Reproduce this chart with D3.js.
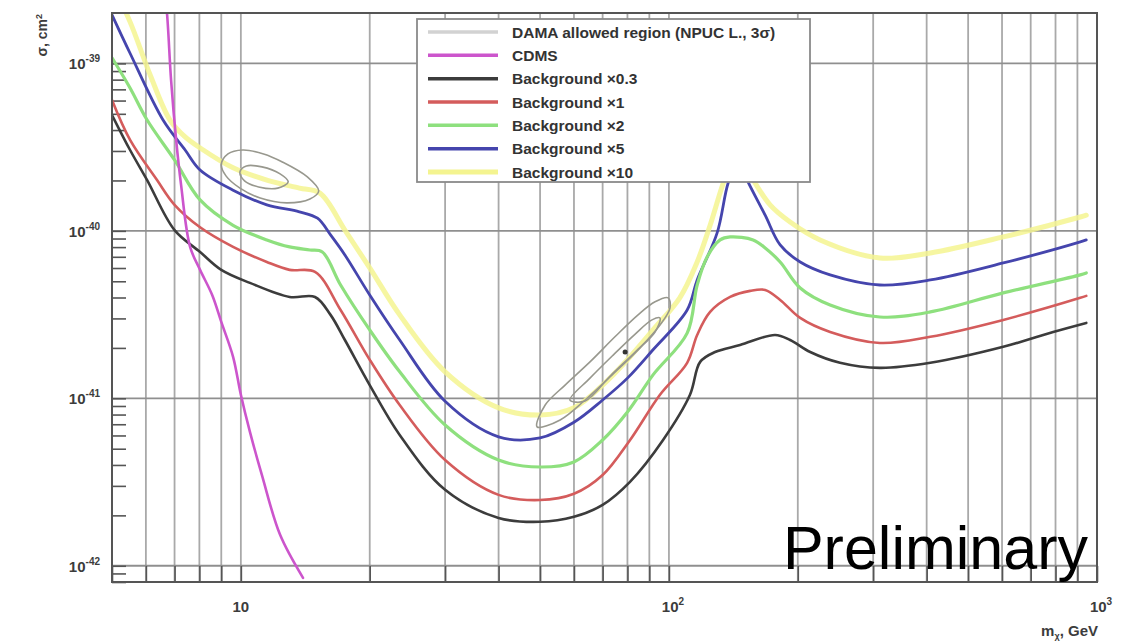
<!DOCTYPE html>
<html>
<head>
<meta charset="utf-8">
<script src="https://cdn.jsdelivr.net/npm/d3@7"></script>
<style>
  body { margin: 0; background: #fff; }
  svg { display: block; }
  text { font-family: "Liberation Sans", Arial, sans-serif; }
</style>
</head>
<body>
<svg id="chart" width="1126" height="641"></svg>
<script>
// Axis ranges: WIMP mass (GeV) and spin-independent cross-section (cm^2)
const xDomain = [5, 1000];
const yDomain = [8e-43, 2e-39];

const xTickValues = [10, 100, 1000];
const xTickExponents = ["", "2", "3"];
const yTickValues = [1e-39, 1e-40, 1e-41, 1e-42];
const yTickExponents = ["-39", "-40", "-41", "-42"];

// Sensitivity curves, [mass GeV, sigma cm^2]
const bgX03 = [[5.0,4.92e-40],[5.51,3.04e-40],[6.04,2.01e-40],[7.0,1.01e-40],[8.03,7.48e-41],[9.0,5.85e-41],[10.5,4.89e-41],[13.0,4.03e-41],[14.9,4.03e-41],[16.2,3.15e-41],[17.5,2.23e-41],[20,1.20e-41],[23.5,6.04e-42],[30,2.84e-42],[40,1.93e-42],[50,1.83e-42],[60,1.96e-42],[70,2.31e-42],[81.1,3.17e-42],[96.9,5.64e-42],[112,1.05e-41],[118.3,1.65e-41],[128.2,1.89e-41],[146.6,2.08e-41],[177,2.39e-41],[191.9,2.23e-41],[213.8,1.89e-41],[251,1.63e-41],[311,1.52e-41],[408,1.63e-41],[604,2.03e-41],[790,2.49e-41],[944,2.82e-41]];

const bgX1 = [[5.0,6.04e-40],[5.51,3.49e-40],[6.37,2.01e-40],[7.0,1.43e-40],[8.03,1.05e-40],[9.59,8.02e-41],[11.5,6.52e-41],[13.0,5.85e-41],[14.9,5.69e-41],[17.1,3.37e-41],[20,1.70e-41],[23.5,9.12e-42],[30,4.28e-42],[40,2.65e-42],[50,2.47e-42],[60,2.69e-42],[70,3.48e-42],[81,5.6e-42],[95.3,1.05e-41],[110.3,1.63e-41],[116.4,2.39e-41],[124.8,3.28e-41],[139,4.03e-41],[154.8,4.38e-41],[167.8,4.44e-41],[181.9,3.87e-41],[202.6,3.02e-41],[238,2.49e-41],[311,2.14e-41],[408,2.33e-41],[604,2.94e-41],[914,3.98e-41],[944,4.09e-41]];

const bgX2 = [[5.0,1.08e-39],[5.51,7.13e-40],[6.04,4.59e-40],[7.0,2.65e-40],[8.03,1.53e-40],[9.59,1.08e-40],[11.5,8.83e-41],[13.0,8.02e-41],[14.5,7.69e-41],[15.5,7.48e-41],[17.1,4.75e-41],[20,2.56e-41],[23.5,1.44e-41],[30,6.93e-42],[40,4.28e-42],[50,3.89e-42],[60,4.17e-42],[70,5.64e-42],[80,8.28e-42],[91.8,1.38e-41],[110.3,2.45e-41],[116.4,4.75e-41],[122.8,6.98e-41],[131.7,8.83e-41],[139,9.2e-41],[157.3,8.83e-41],[167.8,7.91e-41],[181.9,6.52e-41],[202.6,4.56e-41],[238,3.61e-41],[311,3.06e-41],[408,3.28e-41],[604,4.26e-41],[914,5.46e-41],[944,5.61e-41]];

const bgX5 = [[5.0,1.95e-39],[5.51,1.15e-39],[6.58,4.59e-40],[7.41,3.04e-40],[8.03,2.31e-40],[9.59,1.75e-40],[11.5,1.43e-40],[13.7,1.30e-40],[15.1,1.19e-40],[16.2,9.46e-41],[17.5,7.18e-41],[20,4.14e-41],[23.5,2.23e-41],[30,9.6e-42],[40,5.89e-42],[50,5.8e-42],[60,7.2e-42],[70,9.77e-42],[80,1.32e-41],[91.8,1.95e-41],[110.3,3.37e-41],[116.4,5.09e-41],[129.6,9.72e-41],[137.5,1.93e-40],[145,2.65e-40],[153,1.96e-40],[167.8,1.24e-40],[181.9,8.24e-41],[202.6,6.52e-41],[238,5.46e-41],[311,4.75e-41],[408,5.09e-41],[604,6.43e-41],[914,8.59e-41],[944,8.83e-41]];

const bgX10 = [[5.0,3.0e-39],[5.51,1.77e-39],[6.14,8.53e-40],[6.83,4.59e-40],[7.41,3.64e-40],[8.03,3.13e-40],[9.59,2.38e-40],[11.5,2.01e-40],[13.7,1.80e-40],[15.3,1.68e-40],[17.5,1.01e-40],[20,6.01e-41],[23.5,3.15e-41],[30,1.44e-41],[40,8.77e-42],[50,7.94e-42],[60,8.77e-42],[70,1.20e-41],[80,1.70e-41],[91.8,2.56e-41],[106,3.98e-41],[116.4,6.52e-41],[124.8,1.08e-40],[135.3,2.07e-40],[145,3.04e-40],[156.5,2.07e-40],[172.3,1.43e-40],[191.9,1.13e-40],[225.5,8.83e-41],[311,6.89e-41],[408,7.38e-41],[604,9.2e-41],[914,1.21e-40],[944,1.24e-40]];

const cdms = [[6.6,3.0e-39],[6.72,2.0e-39],[6.87,7.96e-40],[7.06,3.49e-40],[7.25,1.88e-40],[7.61,8.02e-41],[8.03,5.85e-41],[8.57,4.14e-41],[9.0,2.86e-41],[9.59,1.77e-41],[10.0,1.05e-41],[10.5,6.3e-42],[11.2,3.48e-42],[12.35,1.53e-42],[13.97,8.47e-43]];

// DAMA allowed regions (closed contours)
const damaLowOuter = [[9.0,2.48e-40],[9.33,2.88e-40],[10.1,3.04e-40],[11.3,2.88e-40],[12.5,2.58e-40],[14.3,2.10e-40],[15.2,1.73e-40],[14.5,1.55e-40],[12.8,1.47e-40],[11.1,1.57e-40],[9.95,1.80e-40],[9.23,2.13e-40]];
const damaLowInner = [[9.95,2.25e-40],[10.3,2.44e-40],[11.2,2.41e-40],[12.35,2.19e-40],[12.9,1.96e-40],[12.2,1.80e-40],[11.0,1.83e-40],[10.2,1.99e-40]];
const damaHighOuter = [[49.2,6.75e-42],[51.4,9.12e-42],[57.2,1.20e-41],[65.4,1.65e-41],[74.8,2.33e-41],[84.7,3.15e-41],[92.8,3.77e-41],[99.6,3.98e-41],[100.6,3.47e-41],[95.3,2.74e-41],[85.6,2.0e-41],[73.7,1.38e-41],[63.7,9.77e-42],[55.7,7.43e-42]];
const damaHighInner = [[58.7,9.77e-42],[65.4,1.32e-41],[73.7,1.79e-41],[83.4,2.42e-41],[91.3,2.94e-41],[95.3,3.02e-41],[92.8,2.49e-41],[83.4,1.89e-41],[72.9,1.36e-41],[63.7,9.64e-42]];
const damaBestFit = [[79.0,1.89e-41]];

const legendLabels = ["DAMA allowed region (NPUC L., 3σ)", "CDMS", "Background ×0.3", "Background ×1", "Background ×2", "Background ×5", "Background ×10"];
const legendColors = ["#d2d2d2", "#cc55cc", "#3c3c3c", "#d45c5c", "#8ee07e", "#4545ad", "#f4f490"];

const svg = d3.select("#chart");
const W = 1126, H = 641;
const plotLeft = 112, plotRight = 1097, plotTop = 13, plotBottom = 582;

const x = d3.scaleLog().domain(xDomain).range([plotLeft, plotRight]);
const y = d3.scaleLog().domain(yDomain).range([plotBottom, plotTop]);

svg.append("rect").attr("width", W).attr("height", H).attr("fill", "#fff");

svg.append("defs").append("clipPath").attr("id", "plot-clip")
  .append("rect").attr("x", plotLeft).attr("y", plotTop)
  .attr("width", plotRight - plotLeft).attr("height", plotBottom - plotTop);

// Grid
const xGrid = x.ticks().filter(v => v > xDomain[0] && v < xDomain[1]);
svg.append("g").selectAll("line").data(xGrid).join("line")
  .attr("x1", d => x(d)).attr("x2", d => x(d))
  .attr("y1", plotTop).attr("y2", plotBottom)
  .attr("stroke", "#a9a9a9").attr("stroke-width", 1.8);

svg.append("g").selectAll("line").data(yTickValues).join("line")
  .attr("x1", plotLeft).attr("x2", plotRight)
  .attr("y1", d => y(d)).attr("y2", d => y(d))
  .attr("stroke", "#8f8f8f").attr("stroke-width", 1.8);

// Inward ticks
const xAxis = svg.append("g").attr("transform", `translate(0,${plotBottom})`)
  .call(d3.axisBottom(x).tickValues(x.ticks()).tickSize(-16).tickFormat(""));
xAxis.select(".domain").remove();
xAxis.selectAll("line").attr("stroke", "#555").attr("stroke-width", 1.6);

const yAxis = svg.append("g").attr("transform", `translate(${plotLeft},0)`)
  .call(d3.axisLeft(y).tickValues(y.ticks()).tickSize(-14).tickFormat(""));
yAxis.select(".domain").remove();
yAxis.selectAll("line").attr("stroke", "#555").attr("stroke-width", 1.6);

// Curves
const plot = svg.append("g").attr("clip-path", "url(#plot-clip)");
const line = d3.line().x(d => x(d[0])).y(d => y(d[1])).curve(d3.curveCatmullRom.alpha(0.5));
const closed = d3.line().x(d => x(d[0])).y(d => y(d[1])).curve(d3.curveCatmullRomClosed.alpha(0.5));

const curves = [
  { data: bgX10, color: legendColors[6], width: 5, opacity: 0.85 },
  { data: bgX5,  color: legendColors[5], width: 2.8, opacity: 1 },
  { data: bgX2,  color: legendColors[4], width: 3.2, opacity: 1 },
  { data: bgX1,  color: legendColors[3], width: 2.6, opacity: 1 },
  { data: bgX03, color: legendColors[2], width: 2.6, opacity: 1 },
  { data: cdms,  color: legendColors[1], width: 2.6, opacity: 1 }
];
plot.selectAll("path.curve").data(curves).join("path")
  .attr("class", "curve")
  .attr("d", d => line(d.data))
  .attr("fill", "none")
  .attr("stroke", d => d.color)
  .attr("stroke-opacity", d => d.opacity)
  .attr("stroke-width", d => d.width)
  .attr("stroke-linejoin", "round")
  .attr("stroke-linecap", "round");

plot.selectAll("path.dama").data([damaLowOuter, damaLowInner, damaHighOuter, damaHighInner]).join("path")
  .attr("class", "dama")
  .attr("d", d => closed(d))
  .attr("fill", "none")
  .attr("stroke", "#98988e")
  .attr("stroke-width", 1.6);

plot.selectAll("circle.best").data(damaBestFit).join("circle")
  .attr("class", "best")
  .attr("cx", d => x(d[0])).attr("cy", d => y(d[1]))
  .attr("r", 2.5).attr("fill", "#333");

// Frame
svg.append("rect").attr("x", plotLeft).attr("y", plotTop)
  .attr("width", plotRight - plotLeft).attr("height", plotBottom - plotTop)
  .attr("fill", "none").attr("stroke", "#555").attr("stroke-width", 2);

// Tick labels
const labelFill = "#3c3c3c";
const xl = svg.append("g").attr("font-size", 15).attr("font-weight", "bold").attr("fill", labelFill);
xTickValues.forEach((v, i) => {
  const t = xl.append("text").attr("x", x(v) + (xTickExponents[i] ? 4 : 0)).attr("y", 612).attr("text-anchor", "middle");
  t.append("tspan").text("10");
  if (xTickExponents[i]) t.append("tspan").attr("dy", -7).attr("font-size", 10).text(xTickExponents[i]);
});

const yl = svg.append("g").attr("font-size", 15).attr("font-weight", "bold").attr("fill", labelFill);
yTickValues.forEach((v, i) => {
  const t = yl.append("text").attr("x", 100).attr("y", y(v) + 6).attr("text-anchor", "end");
  t.append("tspan").text("10");
  t.append("tspan").attr("dy", -7).attr("font-size", 10).text(yTickExponents[i]);
});

// Axis titles
const xt = svg.append("text").attr("x", 1098).attr("y", 636).attr("text-anchor", "end")
  .attr("font-size", 15).attr("font-weight", "bold").attr("fill", labelFill);
xt.append("tspan").text("m");
xt.append("tspan").attr("font-size", 9).attr("dy", 3).text("χ");
xt.append("tspan").attr("dy", -3).text(", GeV");

const yt = svg.append("text").attr("transform", "translate(47,14) rotate(-90)")
  .attr("text-anchor", "end").attr("font-size", 14).attr("font-weight", "bold").attr("fill", labelFill);
yt.append("tspan").text("σ, cm");
yt.append("tspan").attr("dy", -5).attr("font-size", 9).text("2");

// Legend
const lg = svg.append("g");
lg.append("rect").attr("x", 417).attr("y", 19).attr("width", 393).attr("height", 163)
  .attr("fill", "#fff").attr("stroke", "#8a8a8a").attr("stroke-width", 1.8);
const rowY = d3.scalePoint().domain(d3.range(legendLabels.length)).range([32, 172]);
legendLabels.forEach((lab, i) => {
  lg.append("line").attr("x1", 428).attr("x2", 498)
    .attr("y1", rowY(i)).attr("y2", rowY(i))
    .attr("stroke", legendColors[i]).attr("stroke-width", i === 6 ? 5 : 3.5);
  lg.append("text").attr("x", 512).attr("y", rowY(i) + 5.5)
    .attr("font-size", 15.5).attr("font-weight", "bold").attr("fill", "#333")
    .text(lab);
});

// Watermark
svg.append("text").attr("x", 1088).attr("y", 569).attr("text-anchor", "end")
  .attr("font-size", 61).attr("fill", "#000")
  .text("Preliminary");
</script>
</body>
</html>
